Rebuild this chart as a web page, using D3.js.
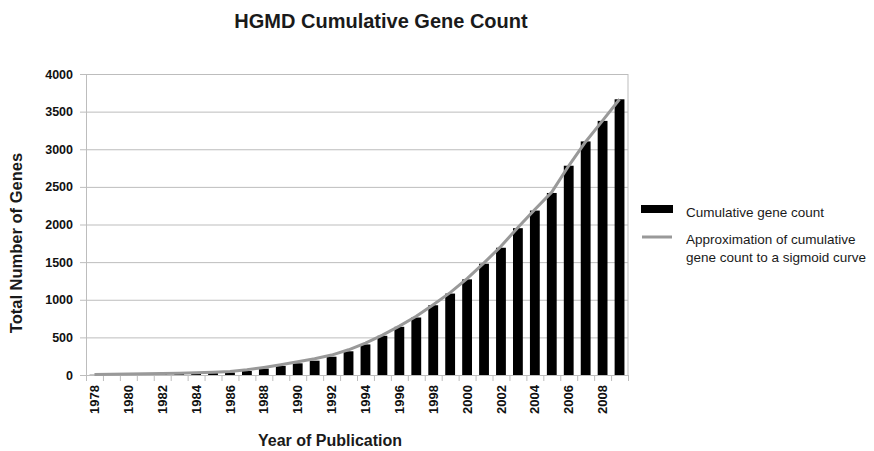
<!DOCTYPE html>
<html>
<head>
<meta charset="utf-8">
<script src="https://cdn.jsdelivr.net/npm/d3@7/dist/d3.min.js"></script>
<style>
  html, body { margin: 0; padding: 0; background: #fff; }
  svg { display: block; font-family: "Liberation Sans", Arial, sans-serif; }
</style>
</head>
<body>
<svg id="chart" width="874" height="451"></svg>
<script>
const years = d3.range(1978, 2010);
const geneCount = [3, 5, 7, 10, 13, 16, 20, 25, 33, 53, 85, 120, 155, 190, 243, 315,
                   406, 521, 640, 764, 927, 1082, 1271, 1479, 1691, 1951, 2185, 2419, 2781, 3104, 3377, 3664];
const sigmoidApprox = [8, 10, 12, 16, 20, 24, 30, 38, 48, 70, 100, 135, 175, 215, 265, 335,
                       425, 530, 650, 780, 935, 1095, 1280, 1490, 1710, 1960, 2200, 2430, 2780, 3100, 3380, 3665];
const yTicks = [0, 500, 1000, 1500, 2000, 2500, 3000, 3500, 4000];
const xLabelYears = d3.range(1978, 2010, 2);
const titleText = "HGMD Cumulative Gene Count";
const xTitle = "Year of Publication";
const yTitle = "Total Number of Genes";
const legendItems = ["Cumulative gene count", ["Approximation of cumulative", "gene count to a sigmoid curve"]];

(function () {
const svg = d3.select("#chart");
const mLeft = 86, mRight = 628, mTop = 74, mBottom = 375;
const gridColor = "#bdbdbd";

const x = d3.scaleBand().domain(years).range([mLeft, mRight]).paddingInner(0.42).paddingOuter(0.21);
const y = d3.scaleLinear().domain([0, 4000]).range([mBottom, mTop]);
const xEdge = d3.scaleLinear().domain([0, years.length]).range([mLeft, mRight]);

// gridlines
const grid = svg.append("g").attr("transform", `translate(${mLeft},0)`)
  .call(d3.axisRight(y).tickValues(yTicks).tickSize(mRight - mLeft).tickFormat(""));
grid.select(".domain").remove();
grid.selectAll("line").attr("stroke", gridColor);

// right border
svg.append("line").attr("x1", mRight).attr("x2", mRight).attr("y1", mTop).attr("y2", mBottom)
  .attr("stroke", gridColor);

// y axis
const yAxis = svg.append("g").attr("transform", `translate(${mLeft},0)`)
  .call(d3.axisLeft(y).tickValues(yTicks).tickSize(6).tickPadding(7).tickFormat(d3.format("d")));
yAxis.select(".domain").attr("stroke", gridColor);
yAxis.selectAll("line").attr("stroke", gridColor);
yAxis.selectAll("text").attr("font-size", 12.5).attr("font-weight", "bold").attr("fill", "#111")
  .attr("font-family", "Liberation Sans, Arial, sans-serif");

// bars
svg.append("g").selectAll("rect").data(years).join("rect")
  .attr("x", d => x(d))
  .attr("width", x.bandwidth())
  .attr("y", (d, i) => y(geneCount[i]))
  .attr("height", (d, i) => y(0) - y(geneCount[i]))
  .attr("fill", "#000");

// x axis ticks at band boundaries
const xTicks = svg.append("g").attr("transform", `translate(0,${mBottom})`)
  .call(d3.axisBottom(xEdge).tickValues(d3.range(years.length + 1)).tickSize(6).tickFormat(""));
xTicks.select(".domain").attr("stroke", gridColor);
xTicks.selectAll("line").attr("stroke", gridColor);

// x labels
const xLab = svg.append("g").attr("transform", `translate(0,${mBottom})`)
  .call(d3.axisBottom(x).tickValues(xLabelYears).tickSize(0).tickPadding(0));
xLab.select(".domain").remove();
xLab.selectAll("text")
  .attr("font-size", 13).attr("font-weight", "bold").attr("fill", "#111")
  .attr("font-family", "Liberation Sans, Arial, sans-serif")
  .attr("text-anchor", "end")
  .attr("transform", "translate(0,10) rotate(-90)")
  .attr("x", 0).attr("y", 0).attr("dy", "0.35em");

// line
const line = d3.line()
  .x((d, i) => x(years[i]) + x.bandwidth() / 2)
  .y(d => y(d));
svg.append("path").datum(sigmoidApprox)
  .attr("d", line)
  .attr("fill", "none")
  .attr("stroke", "#999")
  .attr("stroke-width", 3)
  .attr("stroke-linejoin", "round");

// title
svg.append("text").attr("x", 381).attr("y", 28).attr("text-anchor", "middle")
  .attr("font-size", 20).attr("font-weight", "bold").attr("fill", "#1a1a1a").text(titleText);

// axis titles
svg.append("text").attr("x", 330).attr("y", 446).attr("text-anchor", "middle")
  .attr("font-size", 16).attr("font-weight", "bold").attr("fill", "#1a1a1a").text(xTitle);
svg.append("text").attr("transform", "translate(22,243) rotate(-90)").attr("text-anchor", "middle")
  .attr("font-size", 16.5).attr("font-weight", "bold").attr("fill", "#1a1a1a").text(yTitle);

// legend
const lg = svg.append("g");
lg.append("rect").attr("x", 641).attr("y", 205).attr("width", 32).attr("height", 8).attr("fill", "#000");
lg.append("text").attr("x", 686).attr("y", 216.5).attr("font-size", 13.5).attr("fill", "#1a1a1a").text(legendItems[0]);
lg.append("line").attr("x1", 642).attr("x2", 672).attr("y1", 237).attr("y2", 237)
  .attr("stroke", "#999").attr("stroke-width", 3);
lg.append("text").attr("x", 686).attr("y", 243.5).attr("font-size", 13.5).attr("fill", "#1a1a1a").text(legendItems[1][0]);
lg.append("text").attr("x", 686).attr("y", 261.5).attr("font-size", 13.5).attr("fill", "#1a1a1a").text(legendItems[1][1]);
})();
</script>
</body>
</html>
